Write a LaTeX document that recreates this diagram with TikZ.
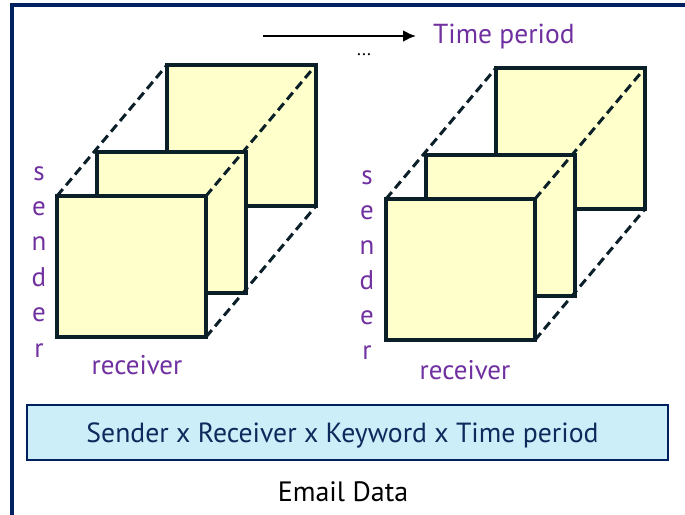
\documentclass[tikz,border=0pt]{standalone}
\usepackage{fontspec}
\setmainfont{PT Sans}
\usetikzlibrary{arrows.meta}

\definecolor{framenavy}{HTML}{002060}
\definecolor{slabfill}{HTML}{FFFFCC}
\definecolor{slabedge}{HTML}{0B1F29}
\definecolor{axispurple}{HTML}{7030A0}
\definecolor{boxfill}{HTML}{CCEEF8}
\definecolor{boxtext}{HTML}{0D2A5C}

\tikzset{
  slab/.style={fill=slabfill, draw=slabedge, line width=3.5pt, line join=miter},
  hiddenedge/.style={draw=slabedge, line width=3pt, dash pattern=on 9pt off 5pt},
  axislabel/.style={text=axispurple, font=\fontsize{27}{30}\selectfont, inner sep=0pt},
  % three stacked slices joined by dashed depth edges
  slabcube/.pic={
    \filldraw[slab] (110,-131) rectangle ++(149,141);
    \filldraw[slab] (40,-44) rectangle ++(149,141);
    \filldraw[slab] (0,0) rectangle ++(149,141);
    \coordinate (-ftl) at (0,0);
    \coordinate (-ftr) at (149,0);
    \coordinate (-fbr) at (149,141);
    \coordinate (-btl) at (110,-131);
    \coordinate (-btr) at (259,-131);
    \coordinate (-bbr) at (259,10);
    \draw[hiddenedge] (-ftl) -- (-btl);
    \draw[hiddenedge] (-ftr) -- (-btr);
    \draw[hiddenedge] (-fbr) -- (-bbr);
  }
}

\begin{document}
\begin{tikzpicture}[x=1pt, y=-1pt]
  \useasboundingbox (0,0) rectangle (685,514);

  % outer frame (continues past the page edge)
  \draw[framenavy, line width=4pt] (12,530) -- (12,5) -- (700,5);

  % time axis
  \coordinate (arrowstart) at (263,36);
  \coordinate (arrowend) at (416,36);
  \node[text=axispurple, font=\fontsize{27.5}{30}\selectfont, anchor=base west, inner sep=0pt]
    (timelabel) at (433,43) {Time period};
  \draw[line width=2.5pt, -{Latex[length=13pt,width=12pt]}] (arrowstart) -- (arrowend);
  \node[font=\fontsize{18}{20}\selectfont, inner sep=0pt] (dots) at (364,55) {...};

  % two data cubes
  \pic (cubeA) at (57,196) {slabcube};
  \pic (cubeB) at (386,199) {slabcube};

  % sender labels, one letter per line
  \foreach \ch [count=\k] in {s,e,n,d,e,r} {
    \node[axislabel, anchor=base] (sendA\k) at (39,{180+35.4*(\k-1)}) {\ch};
    \node[axislabel, anchor=base] (sendB\k) at (367,{184+35*(\k-1)}) {\ch};
  }
  \node[axislabel, anchor=base] (recvA) at (137,374) {receiver};
  \node[axislabel, anchor=base] (recvB) at (465,379) {receiver};

  % tensor description box
  \node[draw=framenavy, fill=boxfill, line width=2pt, minimum width=641pt, minimum height=55pt,
        inner sep=0pt] (tensorbox) at (347.5,432.5) {};
  \node[text=boxtext, font=\fontsize{27.7}{32}\selectfont, anchor=base, inner sep=0pt]
    (tensortext) at (342.5,442) {Sender x Receiver x Keyword x Time period};

  \node[font=\fontsize{28}{30}\selectfont, anchor=base, inner sep=0pt] (caption) at (343,501) {Email Data};
\end{tikzpicture}
\end{document}
